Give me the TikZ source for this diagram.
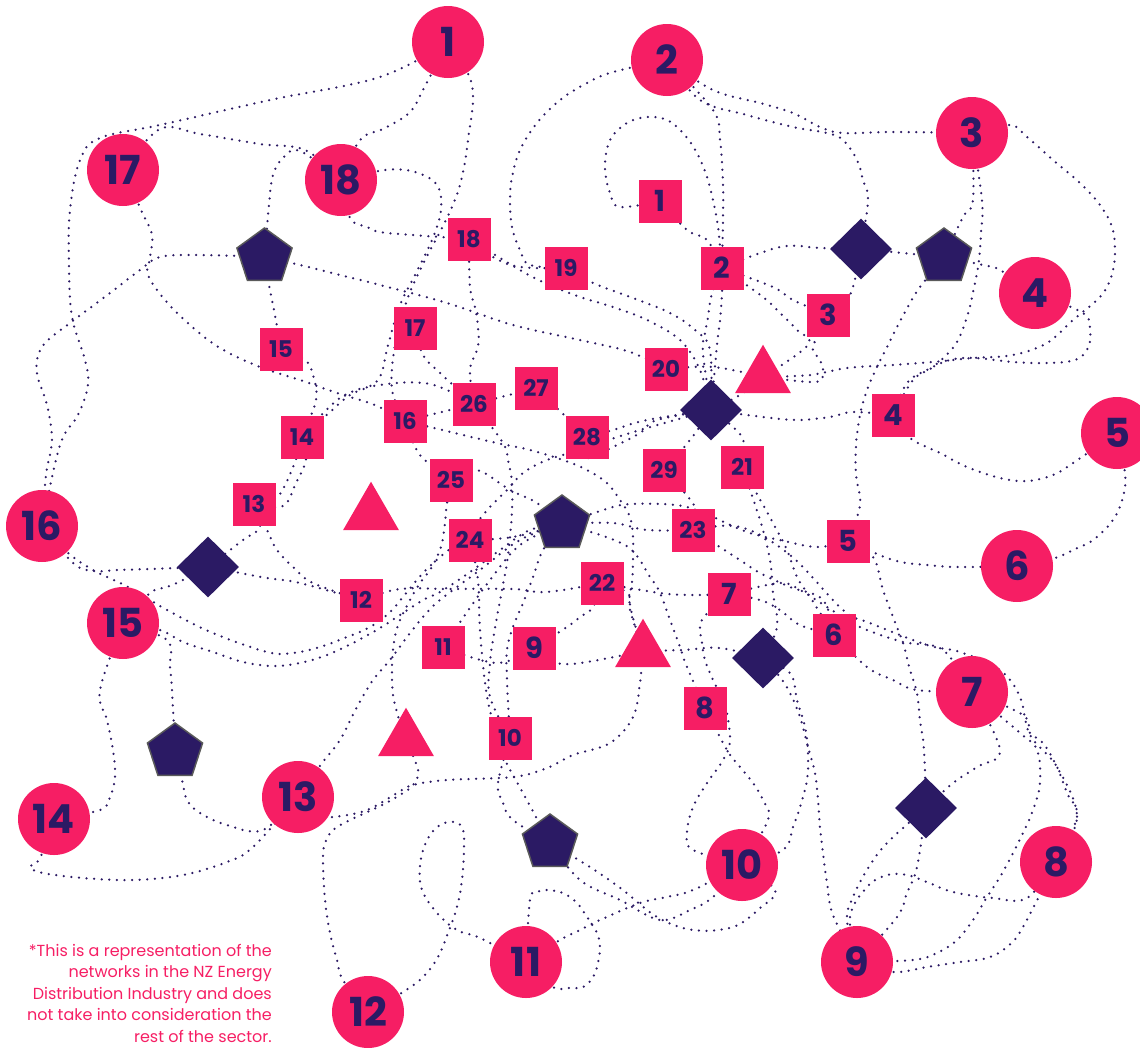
\documentclass[tikz,border=0pt]{standalone}
\usepackage{fontspec}
\setmainfont{Poppins}[Numbers=Proportional]
\usetikzlibrary{shapes.geometric,backgrounds}
\definecolor{pk}{HTML}{F61E64}
\definecolor{nv}{HTML}{2B1A64}
\definecolor{pg}{HTML}{5A5A5A}
\newcommand\lk[1]{\draw[link] plot[smooth,tension=0.6] coordinates {#1};}
\begin{document}
\begin{tikzpicture}[x=1pt,y=-1pt,
  link/.style={draw=nv, line width=2.5pt, line cap=round, dash pattern=on 0pt off 7.6pt},
  circ/.style={circle, fill=pk, minimum size=72pt, inner sep=0pt, text=nv, font=\fontsize{40}{40}\selectfont\bfseries},
  sq/.style={rectangle, fill=pk, minimum size=43pt, inner sep=0pt, text=nv, font=\fontsize{23}{23}\selectfont\bfseries},
  sqa/.style={sq, font=\fontsize{29}{29}\selectfont\bfseries},
  dia/.style={diamond, fill=nv, minimum width=62pt, minimum height=61pt, inner sep=0pt},
  pent/.style={regular polygon, regular polygon sides=5, fill=nv, draw=pg, line width=1.5pt, minimum size=58pt, inner sep=0pt},
  tri/.style={regular polygon, regular polygon sides=3, fill=pk, minimum size=64.6pt, inner sep=0pt},
  note/.style={text=pk, align=right, inner sep=0pt, font=\fontsize{16}{21.5}\selectfont}
]
\useasboundingbox (0,0) rectangle (1140,1047);
% circles
\node[circ] (c1) at (448,42) {1};
\node[circ] (c2) at (667,60) {2};
\node[circ] (c3) at (972,133) {3};
\node[circ] (c4) at (1035,293) {4};
\node[circ] (c5) at (1117,433) {5};
\node[circ] (c6) at (1017,566) {6};
\node[circ] (c7) at (972,692) {7};
\node[circ] (c8) at (1056,862) {8};
\node[circ] (c9) at (857,962) {9};
\node[circ] (c10) at (742,865) {10};
\node[circ] (c11) at (526,962) {11};
\node[circ] (c12) at (368,1012) {12};
\node[circ] (c13) at (298,797) {13};
\node[circ] (c14) at (54,819) {14};
\node[circ] (c15) at (123,623) {15};
\node[circ] (c16) at (42,526) {16};
\node[circ] (c17) at (123,170) {17};
\node[circ] (c18) at (341,180) {18};
% squares
\node[sqa] (s1) at (660,201) {1};
\node[sqa] (s2) at (722,268) {2};
\node[sqa] (s3) at (828,315) {3};
\node[sqa] (s4) at (893,415) {4};
\node[sqa] (s5) at (848,541) {5};
\node[sqa] (s6) at (834,635) {6};
\node[sqa] (s7) at (729,594) {7};
\node[sqa] (s8) at (705,708) {8};
\node[sqa] (s9) at (534,648) {9};
\node[sq] (s10) at (510,738) {10};
\node[sq] (s11) at (443,647) {11};
\node[sq] (s12) at (361,600) {12};
\node[sq] (s13) at (254,504) {13};
\node[sq] (s14) at (302,437) {14};
\node[sq] (s15) at (281,349) {15};
\node[sq] (s16) at (405,421) {16};
\node[sq] (s17) at (415,328) {17};
\node[sq] (s18) at (469,239) {18};
\node[sq] (s19) at (566,268) {19};
\node[sq] (s20) at (666,369) {20};
\node[sq] (s21) at (742,467) {21};
\node[sq] (s22) at (602,583) {22};
\node[sq] (s23) at (693,530) {23};
\node[sq] (s24) at (470,540) {24};
\node[sq] (s25) at (451,480) {25};
\node[sq] (s26) at (474,404) {26};
\node[sq] (s27) at (536,388) {27};
\node[sq] (s28) at (587,437) {28};
\node[sq] (s29) at (664,470) {29};
% diamonds
\node[dia] (d1) at (861,249) {};
\node[dia] (d2) at (711,410) {};
\node[dia] (d3) at (208,567) {};
\node[dia] (d4) at (763,658) {};
\node[dia] (d5) at (926,808) {};
% pentagons
\node[pent] (p1) at (264.5,257) {};
\node[pent] (p2) at (944,257) {};
\node[pent] (p3) at (562,524) {};
\node[pent] (p4) at (175,752) {};
\node[pent] (p5) at (550,843) {};
% triangles
\node[tri] (t1) at (763,377) {};
\node[tri] (t2) at (371,514) {};
\node[tri] (t3) at (643,651) {};
\node[tri] (t4) at (406,740) {};
% note
\node[note, anchor=north east] (nt) at (272,944) {*This is a representation of the\\networks in the NZ Energy\\Distribution Industry and does\\not take into consideration the\\rest of the sector.};

\begin{pgfonlayer}{background}
\lk{(c1) (380,77) (270,100) (160,125) (100,138) (80,160) (70,210) (69,267) (72,317) (85,360) (88,385) (78,415) (60,445) (c16)}
\lk{(c17) (160,129) (200,134) (260,144) (305,150) (c18)}
\lk{(c18) (300,151) (283,158) (273,175) (269,205) (p1)}
\lk{(c1) (424,88) (410,112) (385,128) (360,140) (c18)}
\lk{(c18) (385,170) (415,172) (437,185) (441,210) (432,240) (415,275) (400,305) (388,345) (378,380) (350,395) (330,412) (s14)}
\lk{(c1) (472,85) (468,140) (460,185) (445,222) (425,260) (407,300) (395,345) (392,390) (s16)}
\lk{(c17) (142,212) (152,235) (150,258) (148,275) (165,300) (190,325) (220,348) (260,367) (300,380) (340,394) (375,405) (s16)}
\lk{(p1) (200,255) (160,257) (140,270) (110,293) (70,323) (45,343) (37,360) (38,378) (47,405) (52,440) (46,475) (c16)}
\lk{(p1) (270,290) (274,310) (s15)}
\lk{(p1) (300,265) (340,275) (380,285) (447,303) (513,325) (580,340) (630,352) (s20)}
\lk{(s15) (305,360) (313,375) (316,400) (s14)}
\lk{(s14) (296,459) (286,483) (276,498) (s13)}
\lk{(s14) (306,459) (296,483) (283,506) (s13)}
\lk{(s13) (260,527) (243,540) (d3)}
\lk{(s13) (267,530) (277,550) (293,567) (313,583) (s12)}
\lk{(d3) (177,568) (150,569) (117,570) (93,571) (73,563) (c16)}
\lk{(c16) (67,552) (93,570) (130,588) (167,610) (213,633) (267,652) (293,653) (320,647) (347,637) (370,627) (390,612) (407,592) (423,573) (440,557) (457,543) (473,527) (490,507) (507,490) (523,473) (547,460) (580,450) (630,433) (d2)}
\lk{(c15) (160,630) (183,642) (213,652) (243,662) (273,666) (300,663) (327,655) (353,643) (380,628) (403,613) (423,600) (440,592) (470,572) (500,550) (530,530) (p3)}
\lk{(c15) (150,593) (167,587) (183,580) (d3)}
\lk{(d3) (240,573) (267,578) (300,583) (s12)}
\lk{(s12) (400,589) (447,589) (513,589) (547,592) (s22)}
\lk{(c15) (167,640) (170,667) (172,690) (p4)}
\lk{(c15) (100,690) (107,720) (113,750) (115,777) (110,797) (100,810) (c14)}
\lk{(c14) (40,858) (30,867) (43,873) (83,878) (133,880) (183,875) (227,862) (253,847) (c13)}
\lk{(p4) (182,780) (187,800) (200,813) (227,825) (263,830) (c13)}
\lk{(c13) (300,817) (333,817) (367,810) (397,793) (413,785) (447,780) (513,777) (547,768) (573,755) (610,743) (633,717) (640,683) (t3)}
\lk{(c12) (343,980) (337,960) (330,933) (325,900) (323,860) (325,843) (333,830) (350,820) (380,806) (400,795) (413,785) (418,770) (t4)}
\lk{(c12) (403,992) (423,977) (438,957) (448,933) (457,907) (462,880) (464,850) (463,830) (455,822) (440,825) (427,840) (420,865) (422,890) (437,913) (457,930) (480,938) (c11)}
\lk{(c13) (322,763) (340,740) (357,707) (373,680) (390,660) (407,637) (423,617) (440,600) (480,570) (520,540) (p3)}
\lk{(s25) (447,503) (445,523) (442,543) (437,557) (430,570) (420,583) (410,600) (398,625) (393,650) (392,680) (395,705) (t4)}
\lk{(s24) (513,537) (p3)}
\lk{(p3) (543,550) (533,577) (523,603) (513,627) (507,650) (507,680) (s10)}
\lk{(s24) (478,580) (480,630) (486,690) (495,730) (505,760) (523,793) (p5)}
\lk{(s10) (498,783) (503,803) (513,820) (p5)}
\lk{(s26) (503,443) (508,460) (512,483) (512,510) (510,537) (507,563) (502,590) (497,617) (493,640) (490,663) (490,697) (s10)}
\lk{(p5) (590,867) (623,890) (657,917) (693,930) (733,927) (760,908) (775,890) (c10)}
\lk{(p5) (580,880) (620,900) (660,920) (690,910) (713,897) (c10)}
\lk{(c11) (560,940) (580,930) (600,920) (640,903) (667,897) (693,890) (c10)}
\lk{(c11) (553,987) (567,988) (583,987) (593,977) (598,963) (600,947) (597,933) (587,917) (577,903) (563,893) (547,890) (537,892) (530,900) (c11)}
\lk{(d4) (790,673) (797,700) (805,727) (808,753) (807,780) (800,807) (793,827) (783,850) (c10)}
\lk{(d4) (780,677) (790,693) (800,717) (808,747) (815,773) (818,800) (820,827) (823,853) (827,883) (833,915) (c9)}
\lk{(s8) (727,750) (740,767) (753,783) (763,800) (768,820) (c10)}
\lk{(s7) (702,620) (702,643) (705,660) (713,680) (725,705) (730,740) (723,760) (707,783) (693,807) (687,833) (693,850) (c10)}
\lk{(p3) (625,545) (650,577) (660,593) (670,620) (680,647) (687,667) (s8)}
\lk{(s22) (660,593) (693,595) (s7)}
\lk{(s9) (557,663) (587,662) (t3)}
\lk{(t3) (683,650) (720,648) (d4)}
\lk{(s22) (628,593) (630,610) (t3)}
\lk{(s22) (593,607) (580,617) (567,627) (s9)}
\lk{(s11) (497,663) (s9)}
\lk{(s7) (760,600) (780,610) (800,625) (s6)}
\lk{(s6) (867,667) (893,680) (917,690) (c7)}
\lk{(s5) (893,560) (927,565) (960,567) (c6)}
\lk{(c5) (1125,473) (1123,497) (1113,520) (1093,540) (1073,550) (1055,558) (c6)}
\lk{(s4) (910,438) (940,453) (967,467) (1000,478) (1027,481) (1053,475) (1073,463) (c5)}
\lk{(p2) (920,287) (910,303) (897,327) (887,347) (877,367) (867,390) (860,415) (856,445) (856,475) (860,505) (s5)}
\lk{(s5) (873,557) (883,590) (893,617) (903,643) (910,670) (917,693) (920,720) (924,750) (d5)}
\lk{(c3) (982,200) (981,233) (979,260) (975,283) (967,317) (955,345) (933,367) (913,380) (s4)}
\lk{(c3) (973,200) (963,217) (p2)}
\lk{(c3) (1010,125) (1027,137) (1053,160) (1080,183) (1100,205) (1112,227) (1115,250) (1113,270) (1107,287) (1097,300) (1073,320) (1047,343) (1013,355) (973,358) (933,362) (893,365) (847,368) (810,375) (t1)}
\lk{(c4) (1083,313) (1090,330) (1088,348) (1075,360) (1047,363) (1013,362) (975,358) (950,360) (927,370) (907,383) (s4)}
\lk{(s3) (813,347) (820,360) (823,373) (815,382) (t1)}
\lk{(s2) (773,287) (793,300) (s3)}
\lk{(s2) (763,297) (780,313) (797,330) (808,345) (t1)}
\lk{(d1) (850,295) (s3)}
\lk{(s2) (780,247) (820,248) (d1)}
\lk{(d1) (p2)}
\lk{(c2) (713,90) (760,103) (793,113) (820,127) (843,133) (893,132) (c3)}
\lk{(c2) (700,100) (747,115) (793,127) (827,133) (843,140) (857,160) (863,180) (868,200) (d1)}
\lk{(c2) (713,110) (720,140) (723,183) (723,217) (s2)}
\lk{(s1) (620,207) (610,193) (605,167) (610,140) (627,123) (647,117) (667,120) (683,133) (697,153) (707,177) (713,200) (718,227) (s2)}
\lk{(s1) (687,230) (707,240) (s2)}
\lk{(s2) (712,293) (708,317) (705,333) (703,353) (d2)}
\lk{(s2) (722,293) (720,320) (717,345) (d2)}
\lk{(c2) (613,72) (587,83) (560,100) (537,123) (520,150) (512,177) (510,200) (512,227) (520,250) (530,265) (s19)}
\lk{(s18) (493,257) (520,267) (s19)}
\lk{(s18) (520,270) (545,283) (580,297) (613,307) (647,320) (680,340) (700,370) (d2)}
\lk{(s19) (593,283) (633,298) (670,313) (695,330) (710,350) (d2)}
\lk{(c18) (350,218) (367,227) (380,232) (413,235) (s18)}
\lk{(s18) (470,287) (475,307) (478,327) (478,347) (470,370) (s26)}
\lk{(s17) (423,355) (440,373) (s26)}
\lk{(s26) (s27)}
\lk{(s16) (s26)}
\lk{(s14) (340,398) (380,385) (430,384) (s26)}
\lk{(s16) (430,427) (463,435) (497,443) (530,450) (563,460) (587,470) (607,483) (620,500) (630,517) (633,537) (633,563) (632,583) (630,605) (t3)}
\lk{(s16) (420,455) (s25)}
\lk{(s25) (477,470) (510,490) (537,503) (p3)}
\lk{(s27) (s28)}
\lk{(s28) (613,430) (647,420) (d2)}
\lk{(s28) (587,458) (613,447) (640,433) (657,420) (d2)}
\lk{(p3) (520,545) (490,580) (465,615) (s11)}
\lk{(d2) (763,417) (797,420) (830,417) (853,412) (s4)}
\lk{(d2) (742,437) (s21)}
\lk{(t1) (713,367) (s20)}
\lk{(d2) (740,395) (t1)}
\lk{(s21) (760,520) (770,560) (773,593) (777,627) (d4)}
\lk{(s21) (773,523) (787,550) (797,577) (810,597) (s6)}
\lk{(s23) (740,560) (760,573) (790,587) (823,600) (s6)}
\lk{(s7) (780,583) (800,590) (827,607) (860,627) (903,642) (943,650) (c7)}
\lk{(s23) (740,527) (790,555) (843,610) (870,623) (927,645) (960,652) (1000,670) (1020,697) (1030,735) (1057,767) (1077,817) (c8)}
\lk{(p3) (613,523) (647,530) (s23)}
\lk{(p3) (613,507) (633,504) (663,504) (687,507) (713,517) (747,532) (780,540) (817,547) (s5)}
\lk{(s29) (695,507) (s23)}
\lk{(d2) (690,440) (s29)}
\lk{(c7) (1020,733) (1037,750) (1040,783) (1033,810) (1023,833) (1013,853) (1000,877) (987,897) (973,920) (957,940) (937,953) (913,960) (c9)}
\lk{(c7) (1023,715) (1030,733) (1043,743) (1057,767) (1067,793) (1077,817) (c8)}
\lk{(c7) (1000,750) (977,767) (953,783) (d5)}
\lk{(d5) (887,843) (867,870) (853,897) (847,920) (c9)}
\lk{(d5) (917,867) (907,893) (897,917) (c9)}
\lk{(c9) (850,917) (867,887) (887,875) (907,875) (927,882) (953,892) (993,898) (1027,898) (c8)}
\lk{(c9) (893,972) (927,967) (960,962) (987,958) (1007,947) (1023,927) (c8)}
\lk{(p2) (983,265) (1000,270) (c4)}
\end{pgfonlayer}
\end{tikzpicture}
\end{document}
